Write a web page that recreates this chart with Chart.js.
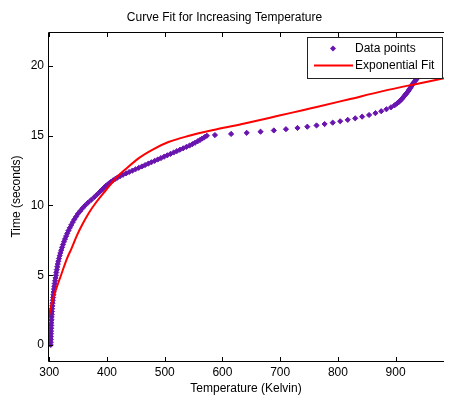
<!DOCTYPE html>
<html>
<head>
<meta charset="utf-8">
<title>Curve Fit for Increasing Temperature</title>
<script src="https://cdn.jsdelivr.net/npm/chart.js"></script>
<style>
  html, body { margin: 0; padding: 0; background: #fff; overflow: hidden; }
  canvas { display: block; }
</style>
</head>
<body>
<canvas id="fitChart" width="449" height="396"></canvas>
<script>
// measured data points (time in s, temperature in K)
var timeSec = [
    0, 0.2, 0.4, 0.6, 0.8, 1.0, 1.2, 1.4, 1.6, 1.8,
    2.0, 2.2, 2.4, 2.6, 2.8, 3.0, 3.2, 3.4, 3.6, 3.8,
    4.0, 4.2, 4.4, 4.6, 4.8, 5.0, 5.2, 5.4, 5.6, 5.8,
    6.0, 6.2, 6.4, 6.6, 6.8, 7.0, 7.2, 7.4, 7.6, 7.8,
    8.0, 8.2, 8.4, 8.6, 8.8, 9.0, 9.2, 9.4, 9.6, 9.8,
    10.0, 10.2, 10.4, 10.6, 10.8, 11.0,
    11.1, 11.2, 11.3, 11.4, 11.5, 11.6, 11.7, 11.8, 11.9, 12.0,
    12.1, 12.2, 12.3, 12.4, 12.5, 12.6, 12.7, 12.8, 12.9, 13.0,
    13.1, 13.2, 13.3, 13.4, 13.5, 13.6, 13.7, 13.8, 13.9, 14.0,
    14.1, 14.2, 14.3, 14.4, 14.5, 14.6, 14.7, 14.8, 14.9, 15.0,
    15.05, 15.13, 15.21, 15.29, 15.38, 15.47, 15.56, 15.65, 15.74, 15.84,
    15.94, 16.04, 16.14, 16.25, 16.37, 16.49, 16.62, 16.76, 16.9, 17.04,
    17.18, 17.3,
    17.4, 17.5, 17.6, 17.7, 17.8, 17.9, 18.0, 18.1, 18.2, 18.3,
    18.4, 18.5, 18.6, 18.7, 18.8, 18.9, 19.0, 19.1, 19.2, 19.3, 19.4
];
var tempK = [
    302.5, 302.6, 302.7, 302.8, 302.9, 303.1, 303.3, 303.5, 303.7, 303.9,
    304.1, 304.3, 304.6, 304.9, 305.3, 305.7, 306.1, 306.6, 307.1, 307.6,
    308.2, 308.8, 309.4, 310.1, 310.8, 311.5, 312.2, 313.0, 313.8, 314.7,
    315.7, 316.8, 318.0, 319.3, 320.7, 322.2, 323.8, 325.5, 327.3, 329.2,
    331.2, 333.3, 335.6, 338.0, 340.6, 343.4, 346.4, 349.6, 353.5, 357.5,
    362, 367, 372.5, 378, 383, 388,
    390.5, 393, 395.5, 398, 401, 404, 407, 410.5, 414, 418,
    422.5, 427.5, 433, 438.5, 444, 449.5, 455, 460.5, 466, 471.5,
    477, 482.5, 488, 493.5, 499, 504.5, 510, 515.5, 521, 526.5,
    532, 537.5, 543, 548, 552.5, 557, 561, 565, 569, 573,
    587, 615, 642, 666, 689, 710, 730, 747, 763, 777,
    791, 804, 817, 830, 842, 854, 865, 875, 884, 892,
    898, 902,
    905, 907.5, 910, 912, 914, 916, 918, 920, 922, 923.5,
    925, 926.5, 928, 929.5, 931, 933, 935, 937, 939.5, 942, 944.5
];

// exponential fit curve
var fitTemp = [297.8, 301.2, 306.3, 313.2, 321.7, 330.3, 338.8, 347.4, 357.7, 369.6,
    381.6, 397.0, 415.8, 434.6, 455.1, 480.8, 506.5, 540.7, 588.6, 638.2,
    694.7, 740.9, 763.2, 819.6, 877.8, 934.2, 983.8];
var fitTime = [1.65, 2.44, 3.30, 4.16, 5.16, 6.16, 6.95, 7.81, 8.67, 9.53,
    10.25, 11.04, 11.97, 12.69, 13.40, 14.05, 14.55, 14.98, 15.45, 15.88,
    16.41, 16.85, 17.06, 17.62, 18.2, 18.7, 19.12];

var xTicks = [300, 400, 500, 600, 700, 800, 900];
var yTicks = [0, 5, 10, 15, 20];

var FONT = '"Liberation Sans", Arial, Helvetica, sans-serif';
var purple = 'rgb(105, 20, 175)';

// matlab style frame with inward ticks
var boxTicks = {
    id: 'boxTicks',
    afterDatasetsDraw: function (chart) {
        var ctx = chart.ctx, a = chart.chartArea;
        var x = chart.scales.x, y = chart.scales.y;
        ctx.save();
        ctx.strokeStyle = '#000';
        ctx.lineWidth = 1;
        ctx.beginPath();
        ctx.moveTo(a.right, a.top + 0.5);
        ctx.lineTo(a.left + 0.5, a.top + 0.5);
        ctx.lineTo(a.left + 0.5, a.bottom + 0.5);
        ctx.lineTo(a.right, a.bottom + 0.5);
        x.ticks.forEach(function (t) {
            var px = Math.round(x.getPixelForValue(t.value)) + 0.5;
            ctx.moveTo(px, a.bottom);
            ctx.lineTo(px, a.bottom - 4);
            ctx.moveTo(px, a.top);
            ctx.lineTo(px, a.top + 5);
        });
        y.ticks.forEach(function (t) {
            var py = Math.round(y.getPixelForValue(t.value)) + 0.5;
            ctx.moveTo(a.left, py);
            ctx.lineTo(a.left + 5, py);
        });
        ctx.stroke();
        ctx.restore();
    }
};

// legend box inside the axes, top right
var boxLegend = {
    id: 'boxLegend',
    afterDatasetsDraw: function (chart) {
        var ctx = chart.ctx, a = chart.chartArea;
        var w = 135, h = 41;
        var left = a.right - 137, top = a.top + 5;
        ctx.save();
        ctx.fillStyle = '#fff';
        ctx.fillRect(left, top, w, h);
        ctx.strokeStyle = '#222';
        ctx.lineWidth = 1;
        ctx.strokeRect(left + 0.5, top + 0.5, w, h);
        ctx.font = '12px ' + FONT;
        ctx.textBaseline = 'middle';
        chart.data.datasets.forEach(function (ds, i) {
            var cy = top + 11.5 + i * 17;
            if (ds.showLine) {
                ctx.strokeStyle = ds.borderColor;
                ctx.lineWidth = 2;
                ctx.beginPath();
                ctx.moveTo(left + 7, cy);
                ctx.lineTo(left + 46, cy);
                ctx.stroke();
            } else {
                var mx = left + 26;
                ctx.fillStyle = ds.backgroundColor;
                ctx.beginPath();
                ctx.moveTo(mx, cy - 3);
                ctx.lineTo(mx + 3, cy);
                ctx.lineTo(mx, cy + 3);
                ctx.lineTo(mx - 3, cy);
                ctx.closePath();
                ctx.fill();
            }
            ctx.fillStyle = '#000';
            ctx.fillText(ds.label, left + 48, cy);
        });
        ctx.restore();
    }
};

var points = timeSec.map(function (t, i) { return { x: tempK[i], y: t }; });
var fitLine = fitTime.map(function (t, i) { return { x: fitTemp[i], y: t }; });

var ctx = document.getElementById('fitChart').getContext('2d');
var fitChart = new Chart(ctx, {
    type: 'scatter',
    data: {
        datasets: [{
            label: 'Data points',
            data: points,
            showLine: false,
            pointStyle: 'rectRot',
            pointRadius: 2.6,
            pointBorderWidth: 1,
            backgroundColor: purple,
            borderColor: purple,
            order: 2
        }, {
            label: 'Exponential Fit',
            data: fitLine,
            showLine: true,
            pointRadius: 0,
            borderColor: '#ff0000',
            backgroundColor: '#ff0000',
            borderWidth: 2,
            cubicInterpolationMode: 'monotone',
            order: 1
        }]
    },
    options: {
        responsive: false,
        animation: false,
        devicePixelRatio: 1,
        layout: { padding: 0 },
        plugins: {
            legend: { display: false },
            tooltip: { enabled: false },
            title: {
                display: true,
                text: 'Curve Fit for Increasing Temperature',
                color: '#000',
                font: { family: FONT, size: 12, weight: 'normal' },
                padding: { top: 10, bottom: 7.6 }
            }
        },
        scales: {
            x: {
                type: 'linear',
                min: 297.8,
                max: 983.8,
                afterFit: function (s) { s.height = 35; },
                afterBuildTicks: function (s) { s.ticks = xTicks.map(function (v) { return { value: v }; }); },
                grid: { display: false, drawTicks: false },
                border: { display: false },
                ticks: { color: '#000', padding: 4, maxRotation: 0, font: { family: FONT, size: 12 } },
                title: {
                    display: true,
                    text: 'Temperature (Kelvin)',
                    color: '#000',
                    font: { family: FONT, size: 12 },
                    padding: { top: 0, bottom: 0 }
                }
            },
            y: {
                type: 'linear',
                min: -1.15,
                max: 22.44,
                afterFit: function (s) { s.width = 48; },
                afterBuildTicks: function (s) { s.ticks = yTicks.map(function (v) { return { value: v }; }); },
                grid: { display: false, drawTicks: false },
                border: { display: false },
                ticks: { color: '#000', padding: 4, font: { family: FONT, size: 12 } },
                title: {
                    display: true,
                    text: 'Time (seconds)',
                    color: '#000',
                    font: { family: FONT, size: 12 },
                    padding: { top: 9.5, bottom: 0 }
                }
            }
        }
    },
    plugins: [boxTicks, boxLegend]
});
</script>
</body>
</html>
